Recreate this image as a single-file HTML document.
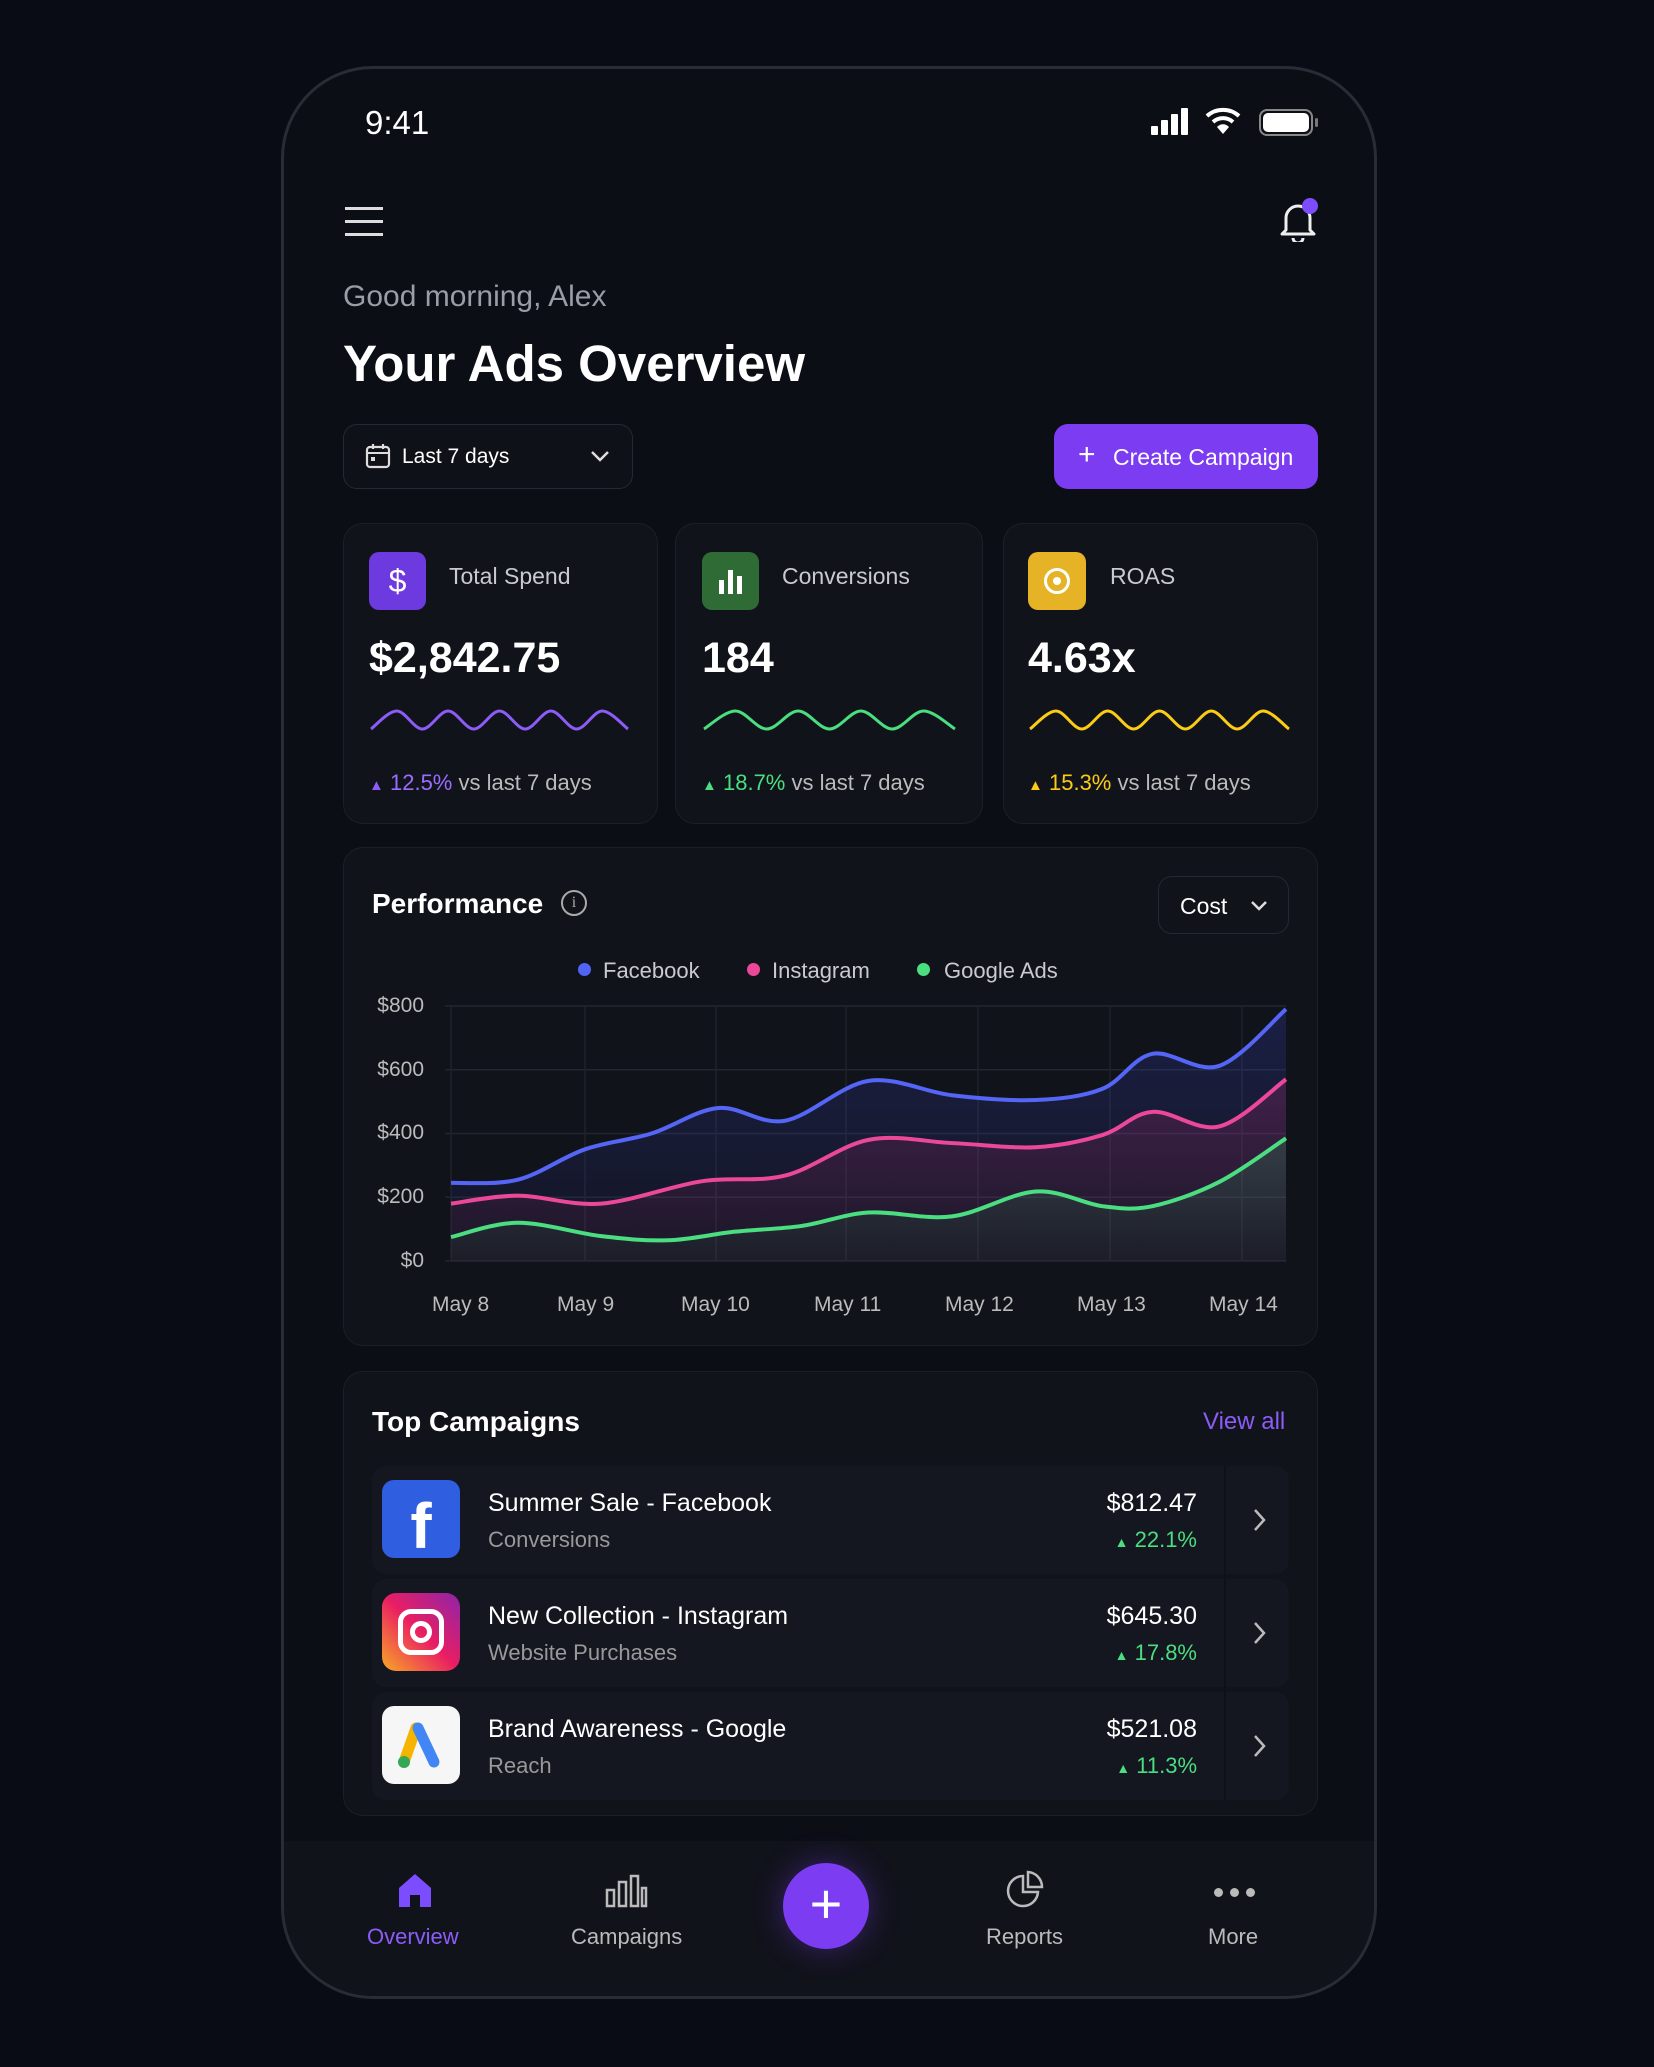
<!DOCTYPE html>
<html><head><meta charset="utf-8">
<style>
*{margin:0;padding:0;box-sizing:border-box}
body{width:1654px;height:2067px;background:#0a0c15;font-family:"Liberation Sans",sans-serif;color:#fff;position:relative;overflow:hidden}
.a{position:absolute}
.phone{left:281px;top:66px;width:1096px;height:1933px;border:3px solid #2a2c35;border-radius:92px;background:#0c0e16}
.card{background:#11131b;border:1.5px solid #1c1f28;border-radius:20px}
.t{white-space:nowrap}
.row{left:372px;width:917px;height:108px;background:#141620;border-radius:14px}
</style></head><body>
<div class="a phone"></div>
<div class="a t" style="left:365px;top:104px;font-size:33px;font-weight:500">9:41</div>
<!-- signal -->
<div class="a" style="left:1151px;top:126px;width:7px;height:9px;background:#fff;border-radius:1px"></div>
<div class="a" style="left:1161px;top:120px;width:7px;height:15px;background:#fff;border-radius:1px"></div>
<div class="a" style="left:1171px;top:114px;width:7px;height:21px;background:#fff;border-radius:1px"></div>
<div class="a" style="left:1181px;top:108px;width:7px;height:27px;background:#fff;border-radius:1px"></div>
<svg class="a" style="left:1205px;top:106px" width="36" height="30" viewBox="0 0 36 30"><path d="M2 10 A24 24 0 0 1 34 10" stroke="#fff" stroke-width="4" fill="none"/><path d="M8 16 A15 15 0 0 1 28 16" stroke="#fff" stroke-width="4" fill="none"/><path d="M18 28 L12 21 A8 8 0 0 1 24 21 Z" fill="#fff"/></svg>
<div class="a" style="left:1259px;top:109px;width:54px;height:27px;border:2px solid #888;border-radius:8px;padding:2px"><div style="width:100%;height:100%;background:#fff;border-radius:5px"></div></div>
<div class="a" style="left:1315px;top:118px;width:3px;height:9px;background:#777;border-radius:2px"></div>
<!-- hamburger -->
<div class="a" style="left:345px;top:207px;width:38px;height:3px;background:#ddd"></div>
<div class="a" style="left:345px;top:220px;width:38px;height:3px;background:#ddd"></div>
<div class="a" style="left:345px;top:233px;width:38px;height:3px;background:#ddd"></div>
<svg class="a" style="left:1278px;top:196px" width="40" height="46" viewBox="0 0 40 46"><path d="M8 34 L8 22 A12 12 0 0 1 32 22 L32 34 L36 38 L4 38 Z" stroke="#eee" stroke-width="3" fill="none" stroke-linejoin="round"/><path d="M15 42 A5 5 0 0 0 25 42" stroke="#eee" stroke-width="3" fill="none"/></svg>
<div class="a" style="left:1302px;top:198px;width:16px;height:16px;border-radius:50%;background:#7c4dff"></div>
<div class="a t" style="left:343px;top:280px;font-size:30px;color:#9a9ca6">Good morning, Alex</div>
<div class="a t" style="left:343px;top:334px;font-size:51px;font-weight:bold">Your Ads Overview</div>
<!-- date dropdown -->
<div class="a" style="left:343px;top:424px;width:290px;height:65px;border:1.5px solid #262933;border-radius:14px;background:#0f1119"></div>
<svg class="a" style="left:365px;top:443px" width="26" height="26" viewBox="0 0 26 26"><rect x="2" y="4" width="22" height="20" rx="3" stroke="#ddd" stroke-width="2.2" fill="none"/><line x1="2" y1="10" x2="24" y2="10" stroke="#ddd" stroke-width="2"/><line x1="8" y1="1" x2="8" y2="6" stroke="#ddd" stroke-width="2.2"/><line x1="18" y1="1" x2="18" y2="6" stroke="#ddd" stroke-width="2.2"/><rect x="6" y="14" width="4" height="4" fill="#ddd"/></svg>
<div class="a t" style="left:402px;top:445px;font-size:21px">Last 7 days</div>
<svg class="a" style="left:590px;top:449px" width="20" height="14"><path d="M2 3 L10 11 L18 3" stroke="#ddd" stroke-width="2.5" fill="none"/></svg>
<!-- create -->
<div class="a" style="left:1054px;top:424px;width:264px;height:65px;border-radius:14px;background:#7b3cf2"></div>
<div class="a t" style="left:1078px;top:440px;font-size:30px;line-height:30px">+</div>
<div class="a t" style="left:1113px;top:444px;font-size:23px">Create Campaign</div>
<!-- stat cards -->
<div class="a card" style="left:343px;top:523px;width:315px;height:301px"></div>
<div class="a card" style="left:675px;top:523px;width:308px;height:301px"></div>
<div class="a card" style="left:1003px;top:523px;width:315px;height:301px"></div>
<div class="a" style="left:369px;top:552px;width:57px;height:58px;border-radius:10px;background:#6d3ae0;font-size:32px;text-align:center;line-height:58px">$</div>
<div class="a" style="left:702px;top:552px;width:57px;height:58px;border-radius:10px;background:#2f6b35"><div class="a" style="left:17px;top:28px;width:5px;height:14px;background:#fff"></div><div class="a" style="left:26px;top:18px;width:5px;height:24px;background:#fff"></div><div class="a" style="left:35px;top:24px;width:5px;height:18px;background:#fff"></div></div>
<div class="a" style="left:1028px;top:552px;width:58px;height:58px;border-radius:10px;background:#e7b326"><div class="a" style="left:16px;top:16px;width:26px;height:26px;border:3px solid #fff;border-radius:50%"></div><div class="a" style="left:25px;top:25px;width:8px;height:8px;background:#fff;border-radius:50%"></div></div>
<div class="a t" style="left:449px;top:563px;font-size:23px;color:#c9cad0">Total Spend</div>
<div class="a t" style="left:782px;top:563px;font-size:23px;color:#c9cad0">Conversions</div>
<div class="a t" style="left:1110px;top:563px;font-size:23px;color:#c9cad0">ROAS</div>
<div class="a t" style="left:369px;top:634px;font-size:43px;font-weight:bold">$2,842.75</div>
<div class="a t" style="left:702px;top:634px;font-size:43px;font-weight:bold">184</div>
<div class="a t" style="left:1028px;top:634px;font-size:43px;font-weight:bold">4.63x</div>
<svg class="a" style="left:0;top:0" width="1654" height="2067" id="spark"></svg>
<div class="a t" style="left:369px;top:770px;font-size:22px;color:#bbb"><span style="color:#8b5cf6;font-size:15px">▲</span> <span style="color:#9b6cff">12.5%</span> vs last 7 days</div>
<div class="a t" style="left:702px;top:770px;font-size:22px;color:#bbb"><span style="color:#4ade80;font-size:15px">▲</span> <span style="color:#4ade80">18.7%</span> vs last 7 days</div>
<div class="a t" style="left:1028px;top:770px;font-size:22px;color:#bbb"><span style="color:#facc15;font-size:15px">▲</span> <span style="color:#facc15">15.3%</span> vs last 7 days</div>
<!-- performance -->
<div class="a card" style="left:343px;top:847px;width:975px;height:499px"></div>
<div class="a t" style="left:372px;top:888px;font-size:28px;font-weight:bold">Performance</div>
<div class="a" style="left:561px;top:890px;width:26px;height:26px;border:2px solid #aaa;border-radius:50%;font-size:16px;text-align:center;line-height:22px;color:#aaa;font-family:'Liberation Serif',serif">i</div>
<div class="a" style="left:1158px;top:876px;width:131px;height:58px;border:1.5px solid #262933;border-radius:14px"></div>
<div class="a t" style="left:1180px;top:893px;font-size:23px">Cost</div>
<svg class="a" style="left:1250px;top:900px" width="18" height="12"><path d="M2 2 L9 9 L16 2" stroke="#ddd" stroke-width="2.5" fill="none"/></svg>
<div class="a" style="left:578px;top:963px;width:13px;height:13px;border-radius:50%;background:#5165f5"></div>
<div class="a t" style="left:603px;top:958px;font-size:22px;color:#c9cad0">Facebook</div>
<div class="a" style="left:747px;top:963px;width:13px;height:13px;border-radius:50%;background:#ec4899"></div>
<div class="a t" style="left:772px;top:958px;font-size:22px;color:#c9cad0">Instagram</div>
<div class="a" style="left:917px;top:963px;width:13px;height:13px;border-radius:50%;background:#4ade80"></div>
<div class="a t" style="left:944px;top:958px;font-size:22px;color:#c9cad0">Google Ads</div>
<div class="a t" style="left:370px;top:994px;font-size:21px;color:#bbb;width:54px;text-align:right">$800</div>
<div class="a t" style="left:370px;top:1058px;font-size:21px;color:#bbb;width:54px;text-align:right">$600</div>
<div class="a t" style="left:370px;top:1121px;font-size:21px;color:#bbb;width:54px;text-align:right">$400</div>
<div class="a t" style="left:370px;top:1185px;font-size:21px;color:#bbb;width:54px;text-align:right">$200</div>
<div class="a t" style="left:370px;top:1249px;font-size:21px;color:#bbb;width:54px;text-align:right">$0</div>
<svg class="a" style="left:0;top:0" width="1654" height="2067" id="chart"></svg>
<div class="a t" style="left:432px;top:1293px;font-size:21px;color:#bbb">May 8</div>
<div class="a t" style="left:557px;top:1293px;font-size:21px;color:#bbb">May 9</div>
<div class="a t" style="left:681px;top:1293px;font-size:21px;color:#bbb">May 10</div>
<div class="a t" style="left:814px;top:1293px;font-size:21px;color:#bbb">May 11</div>
<div class="a t" style="left:945px;top:1293px;font-size:21px;color:#bbb">May 12</div>
<div class="a t" style="left:1077px;top:1293px;font-size:21px;color:#bbb">May 13</div>
<div class="a t" style="left:1209px;top:1293px;font-size:21px;color:#bbb">May 14</div>
<!-- campaigns -->
<div class="a card" style="left:343px;top:1371px;width:975px;height:445px"></div>
<div class="a t" style="left:372px;top:1406px;font-size:28px;font-weight:bold">Top Campaigns</div>
<div class="a t" style="left:1203px;top:1408px;font-size:24px;color:#8b5cf6">View all</div>
<div class="a row" style="top:1466px"></div>
<div class="a row" style="top:1579px"></div>
<div class="a row" style="top:1692px"></div>
<div class="a" style="left:382px;top:1480px;width:78px;height:78px;border-radius:12px;background:#2f5fe0;font-size:64px;font-weight:bold;text-align:center;line-height:92px">f</div>
<div class="a" style="left:382px;top:1593px;width:78px;height:78px;border-radius:14px;background:linear-gradient(45deg,#f9a825,#e91e63 50%,#8e24aa)"><div class="a" style="left:16px;top:16px;width:46px;height:46px;border:5px solid #fff;border-radius:13px"></div><div class="a" style="left:28px;top:28px;width:22px;height:22px;border:5px solid #fff;border-radius:50%"></div></div>
<div class="a" style="left:382px;top:1706px;width:78px;height:78px;border-radius:12px;background:#f6f6f6"><svg width="78" height="78"><line x1="34" y1="22" x2="22" y2="56" stroke="#f4b400" stroke-width="11" stroke-linecap="round"/><line x1="36" y1="22" x2="52" y2="56" stroke="#4285f4" stroke-width="11" stroke-linecap="round"/><circle cx="22" cy="56" r="6" fill="#34a853"/></svg></div>
<div class="a t" style="left:488px;top:1489px;font-size:25px">Summer Sale - Facebook</div>
<div class="a t" style="left:488px;top:1527px;font-size:22px;color:#999">Conversions</div>
<div class="a t" style="left:488px;top:1602px;font-size:25px">New Collection - Instagram</div>
<div class="a t" style="left:488px;top:1640px;font-size:22px;color:#999">Website Purchases</div>
<div class="a t" style="left:488px;top:1715px;font-size:25px">Brand Awareness - Google</div>
<div class="a t" style="left:488px;top:1753px;font-size:22px;color:#999">Reach</div>
<div class="a t" style="left:1000px;top:1489px;width:197px;text-align:right;font-size:25px">$812.47</div>
<div class="a t" style="left:1000px;top:1527px;width:197px;text-align:right;font-size:22px;color:#4ade80"><span style="font-size:14px">▲</span> 22.1%</div>
<div class="a t" style="left:1000px;top:1602px;width:197px;text-align:right;font-size:25px">$645.30</div>
<div class="a t" style="left:1000px;top:1640px;width:197px;text-align:right;font-size:22px;color:#4ade80"><span style="font-size:14px">▲</span> 17.8%</div>
<div class="a t" style="left:1000px;top:1715px;width:197px;text-align:right;font-size:25px">$521.08</div>
<div class="a t" style="left:1000px;top:1753px;width:197px;text-align:right;font-size:22px;color:#4ade80"><span style="font-size:14px">▲</span> 11.3%</div>
<div class="a" style="left:1224px;top:1466px;width:2px;height:334px;background:#0f1118"></div>
<svg class="a" style="left:1252px;top:1507px" width="16" height="26"><path d="M3 3 L12 13 L3 23" stroke="#bbb" stroke-width="2.5" fill="none"/></svg>
<svg class="a" style="left:1252px;top:1620px" width="16" height="26"><path d="M3 3 L12 13 L3 23" stroke="#bbb" stroke-width="2.5" fill="none"/></svg>
<svg class="a" style="left:1252px;top:1733px" width="16" height="26"><path d="M3 3 L12 13 L3 23" stroke="#bbb" stroke-width="2.5" fill="none"/></svg>
<!-- nav -->
<div class="a" style="left:284px;top:1841px;width:1090px;height:155px;background:#11131b;border-radius:0 0 90px 90px"></div>
<svg class="a" style="left:395px;top:1870px" width="40" height="40"><path d="M4 18 L20 4 L36 18 L36 37 L4 37 Z" fill="#7c4dff"/><rect x="15" y="25" width="10" height="12" fill="#11131b"/></svg>
<div class="a t" style="left:367px;top:1924px;font-size:22px;color:#8b5cf6">Overview</div>
<svg class="a" style="left:604px;top:1872px" width="44" height="36"><g stroke="#bbb" stroke-width="2.5" fill="none"><rect x="3" y="18" width="7" height="16"/><rect x="15" y="10" width="7" height="24"/><rect x="27" y="4" width="7" height="30"/><rect x="38" y="16" width="4" height="18"/></g></svg>
<div class="a t" style="left:571px;top:1924px;font-size:22px;color:#bbb">Campaigns</div>
<div class="a" style="left:783px;top:1863px;width:86px;height:86px;border-radius:50%;background:#7b3cf2;box-shadow:0 0 30px rgba(124,58,237,.4);font-size:56px;text-align:center;line-height:82px">+</div>
<svg class="a" style="left:1005px;top:1870px" width="40" height="40"><path d="M18 6 A15 15 0 1 0 33 22 L18 22 Z" stroke="#bbb" stroke-width="2.5" fill="none"/><path d="M23 2 L23 17 L37 17 A15 15 0 0 0 23 2 Z" stroke="#bbb" stroke-width="2.5" fill="none"/></svg>
<div class="a t" style="left:986px;top:1924px;font-size:22px;color:#bbb">Reports</div>
<div class="a" style="left:1214px;top:1888px;width:9px;height:9px;border-radius:50%;background:#bbb"></div>
<div class="a" style="left:1230px;top:1888px;width:9px;height:9px;border-radius:50%;background:#bbb"></div>
<div class="a" style="left:1246px;top:1888px;width:9px;height:9px;border-radius:50%;background:#bbb"></div>
<div class="a t" style="left:1208px;top:1924px;font-size:22px;color:#bbb">More</div>
<script>
function smooth(p){let d="M"+p[0][0]+" "+p[0][1];for(let i=0;i<p.length-1;i++){const p0=p[i-1]||p[i],p1=p[i],p2=p[i+1],p3=p[i+2]||p2;const c1=[p1[0]+(p2[0]-p0[0])/6,p1[1]+(p2[1]-p0[1])/6],c2=[p2[0]-(p3[0]-p1[0])/6,p2[1]-(p3[1]-p1[1])/6];d+=` C${c1[0]} ${c1[1]} ${c2[0]} ${c2[1]} ${p2[0]} ${p2[1]}`;}return d;}
const X0=451,X1=1286,Y0=1261,K=(1261-1006)/800;
const mp=a=>a.map(([f,v])=>[X0+f*(X1-X0),Y0-v*K]);
const fb=mp([[0,245],[0.08,255],[0.16,350],[0.24,400],[0.32,480],[0.4,440],[0.5,565],[0.6,520],[0.7,505],[0.78,540],[0.84,650],[0.92,612],[1,790]]);
const ig=mp([[0,180],[0.08,205],[0.18,180],[0.3,250],[0.4,268],[0.5,380],[0.6,370],[0.7,357],[0.78,395],[0.84,468],[0.92,422],[1,570]]);
const gg=mp([[0,75],[0.08,120],[0.18,78],[0.26,65],[0.34,92],[0.42,110],[0.5,152],[0.6,140],[0.7,218],[0.78,172],[0.84,172],[0.92,248],[1,385]]);
let s='<defs>';
[['gf','#3b4bd8'],['gi','#d0307a'],['gg','#2fae5a']].forEach(([id,c])=>{s+=`<linearGradient id="${id}" x1="0" y1="0" x2="0" y2="1"><stop offset="0" stop-color="${c}" stop-opacity=".22"/><stop offset="1" stop-color="${c}" stop-opacity=".04"/></linearGradient>`});
s+='</defs>';
for(let i=0;i<=4;i++){const y=Y0-i*200*K;s+=`<line x1="${X0-6}" x2="${X1}" y1="${y}" y2="${y}" stroke="#22252f" stroke-width="1.5"/>`;}
[451,585,716,846,978,1110,1242].forEach(x=>s+=`<line x1="${x}" x2="${x}" y1="1006" y2="${Y0}" stroke="#1f222b" stroke-width="1.5"/>`);
const close=d=>d+` L${X1} ${Y0} L${X0} ${Y0} Z`;
s+=`<path d="${close(smooth(fb))}" fill="url(#gf)"/><path d="${close(smooth(ig))}" fill="url(#gi)"/><path d="${close(smooth(gg))}" fill="url(#gg)"/>`;
[[fb,'#5566f6'],[ig,'#ec4899'],[gg,'#4ade80']].forEach(([p,c])=>s+=`<path d="${smooth(p)}" stroke="${c}" stroke-width="4" fill="none"/>`);
document.getElementById('chart').innerHTML=s;
function wave(x0,x1,y,n,amp,c){const p=[];for(let i=0;i<=n;i++){p.push([x0+(x1-x0)*i/n,y+(i%2?-amp:amp)]);}return `<path d="${smooth(p)}" stroke="${c}" stroke-width="3" fill="none"/>`;}
document.getElementById('spark').innerHTML=wave(371,628,720,10,9,'#8b5cf6')+wave(704,955,720,8,9,'#4ade80')+wave(1030,1289,720,10,9,'#facc15');
</script>
</body></html>
